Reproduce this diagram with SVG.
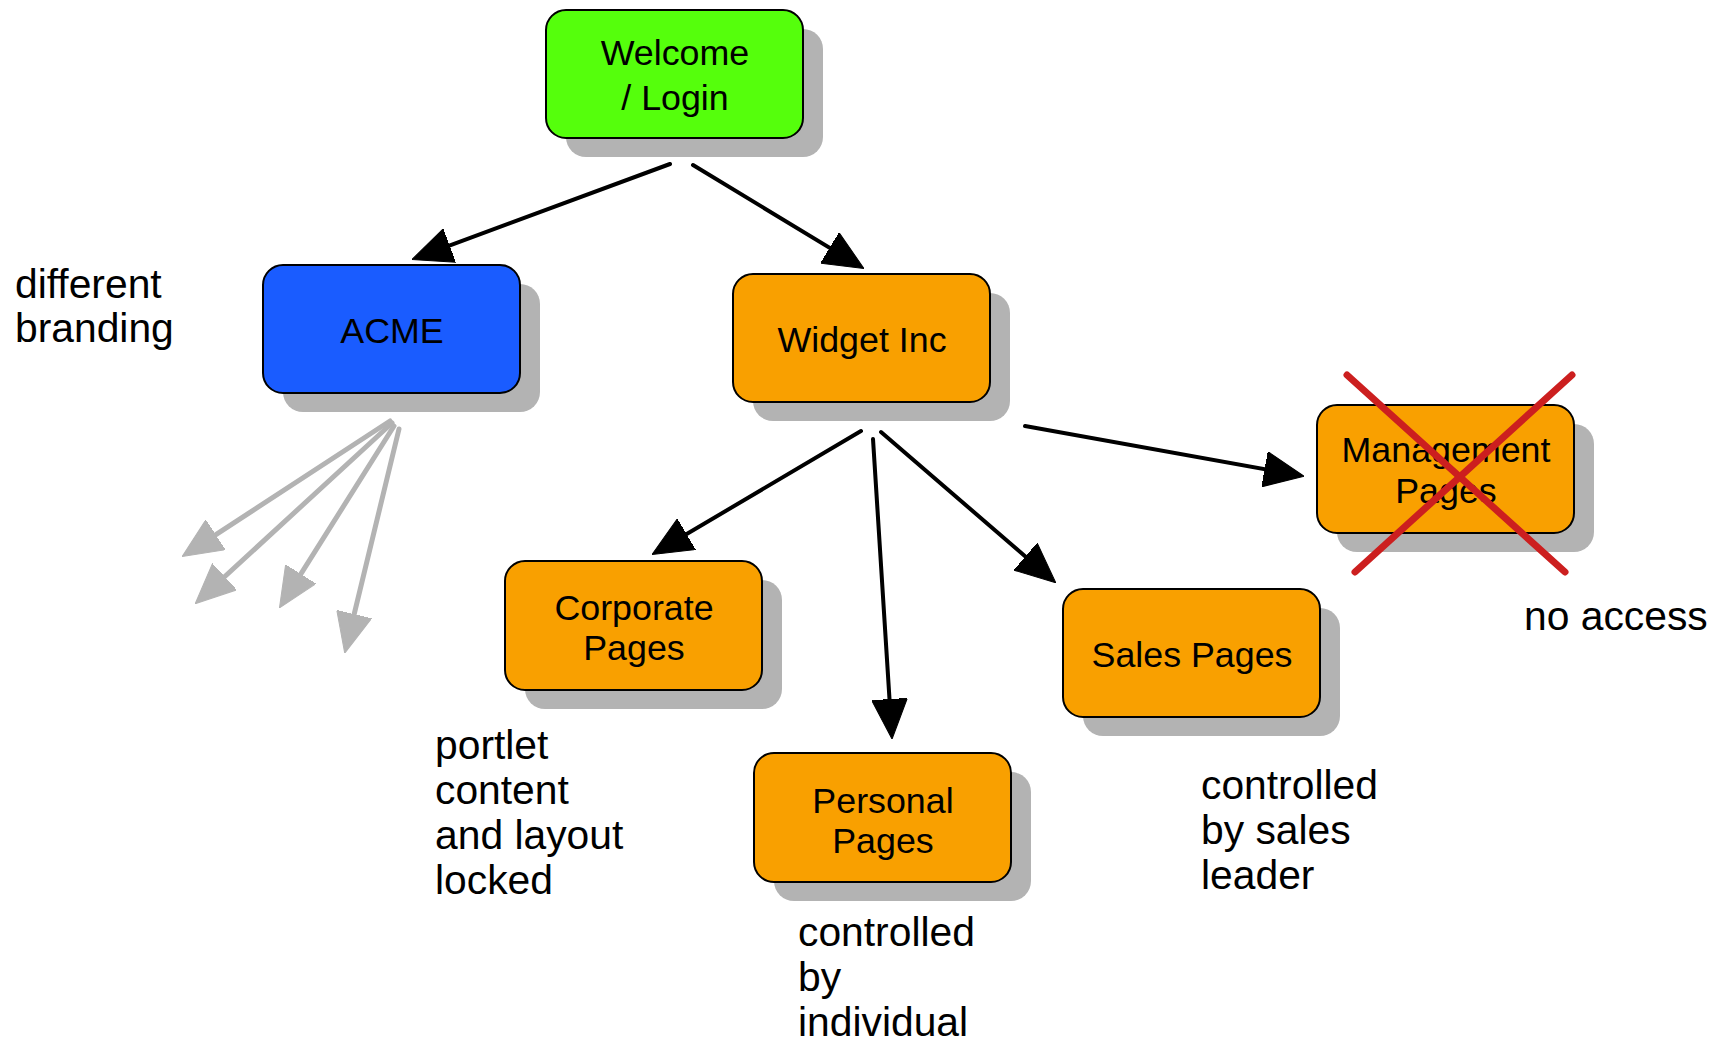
<svg xmlns="http://www.w3.org/2000/svg" width="1724" height="1042" viewBox="0 0 1724 1042">
<style>
.box{stroke:#000;stroke-width:2}
.shadow{fill:#b3b3b3}
.lbl{font-family:"Liberation Sans",Arial,sans-serif;font-size:35.8px;fill:#000;text-anchor:middle}
.note{font-family:"Liberation Sans",Arial,sans-serif;font-size:40.8px;fill:#000}
.edge{stroke:#000;stroke-width:4;fill:none;stroke-linecap:round}
.gedge{stroke:#b3b3b3;stroke-width:5;fill:none;stroke-linecap:round}
.cross{stroke:#cc1f1f;stroke-width:7;stroke-linecap:round}
</style>
<defs>
<marker id="ah" markerUnits="userSpaceOnUse" markerWidth="40" markerHeight="36" viewBox="0 0 38 34" refX="18" refY="17" orient="auto"><path d="M0,0 L38,17 L0,34 z" fill="#000" stroke="#000" stroke-width="1" stroke-linejoin="round"/></marker>
<marker id="gah" markerUnits="userSpaceOnUse" markerWidth="40" markerHeight="36" viewBox="0 0 38 34" refX="18" refY="17" orient="auto"><path d="M0,0 L38,17 L0,34 z" fill="#b3b3b3" stroke="#b3b3b3" stroke-width="1" stroke-linejoin="round"/></marker>
</defs>
<rect width="1724" height="1042" fill="#fff"/>

<g id="welcome">
<rect class="shadow" x="566" y="29" width="257" height="128" rx="20"/>
<rect class="box" x="546" y="10" width="257" height="128" rx="20" fill="#55ff0c"/>
<text class="lbl" x="675" y="65">Welcome</text>
<text class="lbl" x="675" y="110">/ Login</text>
</g>
<g id="acme">
<rect class="shadow" x="283" y="284" width="257" height="128" rx="20"/>
<rect class="box" x="263" y="265" width="257" height="128" rx="20" fill="#1a5cff"/>
<text class="lbl" x="392" y="343">ACME</text>
</g>
<g id="widget">
<rect class="shadow" x="753" y="293" width="257" height="128" rx="20"/>
<rect class="box" x="733" y="274" width="257" height="128" rx="20" fill="#f9a000"/>
<text class="lbl" x="862" y="352">Widget Inc</text>
</g>
<g id="management">
<rect class="shadow" x="1337" y="424" width="257" height="128" rx="20"/>
<rect class="box" x="1317" y="405" width="257" height="128" rx="20" fill="#f9a000"/>
<text class="lbl" x="1446" y="462">Management</text>
<text class="lbl" x="1446" y="503">Pages</text>
</g>
<g id="corporate">
<rect class="shadow" x="525" y="580" width="257" height="129" rx="20"/>
<rect class="box" x="505" y="561" width="257" height="129" rx="20" fill="#f9a000"/>
<text class="lbl" x="634" y="620">Corporate</text>
<text class="lbl" x="634" y="660">Pages</text>
</g>
<g id="sales">
<rect class="shadow" x="1083" y="608" width="257" height="128" rx="20"/>
<rect class="box" x="1063" y="589" width="257" height="128" rx="20" fill="#f9a000"/>
<text class="lbl" x="1192" y="667">Sales Pages</text>
</g>
<g id="personal">
<rect class="shadow" x="774" y="772" width="257" height="129" rx="20"/>
<rect class="box" x="754" y="753" width="257" height="129" rx="20" fill="#f9a000"/>
<text class="lbl" x="883" y="813">Personal</text>
<text class="lbl" x="883" y="853">Pages</text>
</g>

<g id="connectors">
<line class="edge" x1="670" y1="164" x2="431.8" y2="252.1" marker-end="url(#ah)"/>
<line class="edge" x1="693" y1="165" x2="845.9" y2="257.6" marker-end="url(#ah)"/>
<line class="edge" x1="861" y1="431" x2="670.2" y2="543.8" marker-end="url(#ah)"/>
<line class="edge" x1="873" y1="439" x2="890.7" y2="718" marker-end="url(#ah)"/>
<line class="edge" x1="881" y1="432" x2="1039.8" y2="568.9" marker-end="url(#ah)"/>
<line class="edge" x1="1025" y1="426" x2="1283.3" y2="472.5" marker-end="url(#ah)"/>
<line class="gedge" x1="390" y1="421" x2="199.8" y2="545.1" marker-end="url(#gah)"/>
<line class="gedge" x1="392" y1="423" x2="210.7" y2="589.5" marker-end="url(#gah)"/>
<line class="gedge" x1="394" y1="426" x2="290.7" y2="590.1" marker-end="url(#gah)"/>
<line class="gedge" x1="399" y1="429" x2="349.7" y2="632.6" marker-end="url(#gah)"/>
</g>

<g id="no-access-cross">
<line class="cross" x1="1347" y1="375" x2="1565" y2="572"/>
<line class="cross" x1="1572" y1="375" x2="1355" y2="572"/>
</g>

<g id="notes">
<text class="note" x="15" y="298">different</text>
<text class="note" x="15" y="342">branding</text>
<text class="note" x="435" y="759">portlet</text>
<text class="note" x="435" y="804">content</text>
<text class="note" x="435" y="849">and layout</text>
<text class="note" x="435" y="894">locked</text>
<text class="note" x="798" y="946">controlled</text>
<text class="note" x="798" y="991">by</text>
<text class="note" x="798" y="1036">individual</text>
<text class="note" x="1201" y="799">controlled</text>
<text class="note" x="1201" y="844">by sales</text>
<text class="note" x="1201" y="889">leader</text>
<text class="note" x="1524" y="630">no access</text>
</g>
</svg>
